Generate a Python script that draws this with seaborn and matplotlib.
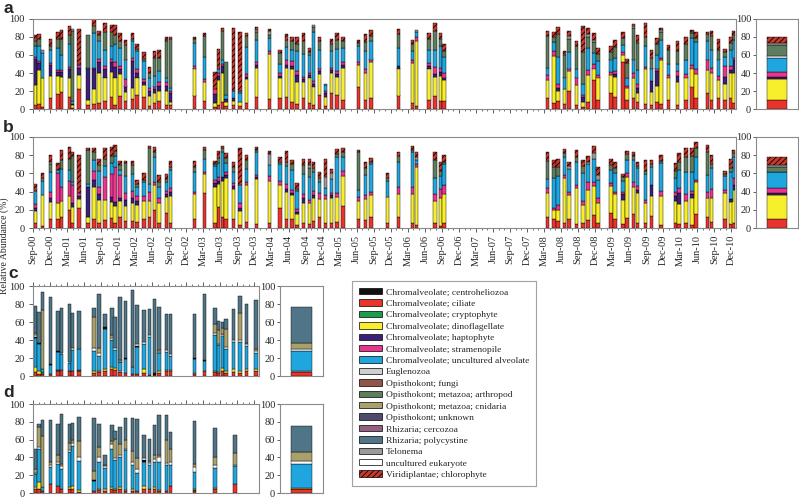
import numpy as np
import matplotlib
matplotlib.use("Agg")
import matplotlib.pyplot as plt
import seaborn as sns
from matplotlib.patches import Patch

# ---- taxa / legend ----
taxa = [
    "Chromalveolate; centroheliozoa",
    "Chromalveolate; ciliate",
    "Chromalveolate; cryptophyte",
    "Chromalveolate; dinoflagellate",
    "Chromalveolate; haptophyte",
    "Chromalveolate; stramenopile",
    "Chromalveolate; uncultured alveolate",
    "Euglenozoa",
    "Opisthokont; fungi",
    "Opisthokont; metazoa; arthropod",
    "Opisthokont; metazoa; cnidaria",
    "Opisthokont; unknown",
    "Rhizaria; cercozoa",
    "Rhizaria; polycystine",
    "Telonema",
    "uncultured eukaryote",
    "Viridiplantae; chlorophyte",
]
taxa_colors = ["#111111", "#e8342d", "#1b9e4b", "#f7ef2b", "#3b2078", "#e8368e",
               "#1fa6de", "#cfcfcf", "#8e5548", "#5e7c5e", "#a9a06c", "#4f4a6e",
               "#93607f", "#4f7587", "#9a9a9a", "#ffffff", "#c9372d"]

# stacking order, bottom to top
stack_order = ["Chromalveolate; ciliate", "Chromalveolate; cryptophyte",
               "Chromalveolate; dinoflagellate", "Chromalveolate; haptophyte",
               "Chromalveolate; stramenopile", "Chromalveolate; uncultured alveolate",
               "Chromalveolate; centroheliozoa", "uncultured eukaryote",
               "Opisthokont; metazoa; arthropod", "Opisthokont; metazoa; cnidaria",
               "Rhizaria; polycystine", "Telonema", "Viridiplantae; chlorophyte"]

month_labels = ["Sep-00", "Dec-00", "Mar-01", "Jun-01", "Sep-01", "Dec-01", "Mar-02",
                "Jun-02", "Sep-02", "Dec-02", "Mar-03", "Jun-03", "Sep-03", "Dec-03",
                "Mar-04", "Jun-04", "Sep-04", "Dec-04", "Mar-05", "Jun-05", "Sep-05",
                "Dec-05", "Mar-06", "Jun-06", "Sep-06", "Dec-06", "Mar-07", "Jun-07",
                "Sep-07", "Dec-07", "Mar-08", "Jun-08", "Sep-08", "Dec-08", "Mar-09",
                "Jun-09", "Sep-09", "Dec-09", "Mar-10", "Jun-10", "Sep-10", "Dec-10"]

# ---- panel a (months since Sep-00) ----
a_month = [0.4, 1.06, 1.65, 3.06, 4.41, 5.06, 6.47, 6.94, 8.12, 9.71,
           10.76, 11.65, 12.71, 13.88, 14.47, 15.35, 16.29, 17.53, 18.35, 19.53,
           20.47, 21.35, 22.18, 23.53, 24.24, 28.41, 30.24, 32.06, 32.65, 33.41,
           34.0, 35.29, 36.47, 37.65, 39.41, 41.65, 43.53, 44.59, 45.59, 46.47,
           47.65, 48.71, 49.41, 50.47, 51.47, 52.53, 53.53, 54.59, 57.35, 58.53,
           59.53, 64.41, 66.88, 67.53, 69.71, 70.76, 71.76, 72.41, 90.65, 91.76,
           92.47, 93.65, 94.41, 95.71, 96.88, 97.76, 98.82, 99.53, 101.76, 102.47,
           103.88, 104.59, 105.76, 106.47, 107.82, 108.94, 109.88, 110.59, 111.94, 113.53,
           115.0, 116.06, 116.76, 118.82, 119.53, 120.76, 121.88, 122.94, 123.4]
a_cil = [5, 6, 2, 12, 17, 19, 13, 1, 22, 5, 6, 7, 9, 13, 5, 14, 9, 11, 16, 13,
         3, 7, 9, 4, 4, 15, 9, 2, 5, 8, 3, 4, 3, 7, 13, 11, 12, 13, 8, 6,
         12, 7, 5, 16, 3, 18, 16, 10, 24, 10, 12, 15, 7, 3, 10, 14, 9, 9, 12, 7,
         9, 6, 20, 5, 2, 8, 32, 10, 18, 13, 52, 10, 12, 8, 6, 4, 8, 6, 10, 5,
         10, 25, 12, 18, 10, 12, 10, 12, 7]
a_dino = [22, 37, 32, 25, 20, 17, 22, 3, 16, 5, 16, 33, 26, 28, 30, 25, 10, 12, 19, 14,
          12, 11, 11, 16, 4, 30, 21, 5, 27, 32, 5, 5, 5, 26, 33, 50, 22, 33, 37, 24,
          18, 28, 20, 23, 10, 22, 20, 36, 25, 30, 40, 30, 44, 73, 35, 22, 28, 23, 20, 52,
          11, 16, 22, 22, 6, 30, 13, 25, 20, 23, 8, 13, 22, 10, 38, 15, 18, 48, 25, 25,
          25, 20, 27, 25, 30, 20, 18, 28, 33]
a_hapto = [29, 8, 0, 12, 4, 5, 10, 2, 8, 35, 22, 12, 10, 11, 12, 5, 6, 30, 5, 3,
           5, 4, 6, 6, 10, 0, 0, 10, 5, 8, 3, 3, 0, 3, 3, 0, 3, 3, 3, 8,
           3, 3, 3, 3, 5, 3, 3, 3, 0, 0, 0, 3, 0, 0, 3, 3, 4, 3, 0, 0,
           3, 0, 0, 0, 5, 0, 0, 0, 0, 3, 0, 0, 0, 5, 0, 12, 16, 0, 0, 7,
           0, 0, 0, 0, 0, 0, 8, 3, 14]
a_stram = [2, 2, 0, 2, 2, 2, 2, 0, 3, 0, 2, 4, 3, 4, 5, 4, 8, 4, 4, 3,
           3, 3, 4, 4, 2, 3, 3, 5, 3, 2, 0, 0, 0, 3, 3, 3, 3, 5, 5, 4,
           3, 2, 3, 3, 2, 3, 3, 3, 3, 4, 3, 0, 3, 4, 3, 8, 5, 5, 6, 5,
           5, 0, 3, 8, 3, 5, 5, 3, 3, 3, 3, 3, 6, 5, 3, 0, 3, 3, 3, 5,
           4, 4, 5, 12, 6, 5, 12, 5, 3]
a_alv = [12, 17, 28, 15, 25, 17, 25, 3, 1, 1, 38, 20, 18, 14, 20, 20, 22, 18, 20, 20,
         12, 12, 12, 5, 3, 25, 25, 0, 5, 5, 5, 8, 10, 30, 25, 15, 10, 15, 12, 22,
         25, 20, 55, 20, 7, 18, 25, 16, 18, 20, 20, 20, 10, 5, 15, 18, 24, 18, 8, 10,
         30, 13, 18, 10, 12, 25, 12, 15, 14, 15, 8, 8, 15, 15, 23, 14, 15, 20, 12, 8,
         15, 30, 30, 20, 20, 18, 10, 18, 20]
a_arth = [5, 8, 0, 4, 10, 18, 10, 78, 0, 36, 8, 6, 20, 16, 10, 8, 16, 3, 3, 3,
          5, 20, 15, 40, 55, 5, 23, 0, 0, 32, 36, 0, 2, 12, 8, 3, 12, 8, 10, 8,
          15, 3, 5, 10, 0, 8, 10, 7, 3, 10, 6, 15, 8, 0, 12, 22, 8, 6, 35, 6,
          25, 25, 15, 25, 35, 12, 12, 8, 8, 12, 8, 17, 35, 30, 10, 12, 12, 8, 15, 14,
          18, 5, 5, 8, 15, 10, 5, 7, 5]
a_tel = [0, 0, 3, 0, 0, 0, 0, 2, 0, 0, 0, 0, 0, 0, 0, 0, 0, 0, 0, 0,
         0, 0, 0, 0, 0, 0, 0, 0, 0, 0, 0, 0, 0, 0, 3, 5, 0, 0, 0, 0,
         0, 0, 2, 0, 1, 0, 0, 0, 0, 0, 0, 0, 0, 3, 0, 0, 0, 0, 0, 0,
         0, 0, 3, 0, 0, 3, 3, 0, 0, 0, 0, 0, 2, 0, 0, 0, 0, 3, 0, 0,
         0, 2, 0, 0, 0, 0, 0, 0, 0]
a_chl = [7, 5, 0, 8, 8, 10, 10, 0, 39, 0, 8, 5, 10, 7, 11, 8, 6, 6, 5, 7,
         7, 7, 8, 5, 2, 2, 3, 19, 22, 3, 0, 70, 65, 3, 3, 2, 4, 6, 5, 8,
         8, 5, 0, 5, 0, 6, 7, 5, 4, 9, 7, 6, 5, 0, 6, 8, 6, 8, 6, 6,
         8, 4, 6, 5, 29, 7, 7, 7, 7, 8, 6, 5, 2, 9, 15, 8, 7, 2, 6, 12,
         8, 2, 6, 3, 6, 13, 4, 7, 5]
a_mean = [10, 0, 23, 3, 5, 16, 0, 2, 12, 0, 0, 2, 7]

# ---- panel b ----
b_month = [0.4, 1.65, 3.06, 4.41, 5.06, 6.47, 6.94, 8.12, 9.71, 10.76,
           11.65, 12.71, 13.88, 14.47, 15.35, 16.29, 17.53, 18.35, 19.53, 20.47,
           21.35, 22.18, 23.53, 24.24, 28.41, 30.24, 32.06, 32.65, 33.41, 34.0,
           35.29, 36.47, 37.65, 39.41, 41.65, 43.53, 44.59, 45.59, 46.47, 47.65,
           48.71, 49.41, 50.47, 51.47, 52.53, 53.53, 54.59, 57.35, 58.53, 59.53,
           62.47, 64.41, 66.88, 67.53, 70.76, 71.76, 72.41, 90.65, 91.76, 92.47,
           93.65, 94.41, 95.71, 96.88, 97.76, 98.82, 99.53, 101.76, 102.47, 103.88,
           104.59, 105.76, 106.47, 107.82, 108.94, 110.59, 113.18, 113.76, 115.0, 116.06,
           116.76, 118.82, 119.53, 121.88, 122.94, 123.4]
b_cil = [6, 2, 10, 10, 12, 20, 5, 22, 6, 10, 6, 9, 11, 6, 12, 8, 8, 7, 10, 12,
         20, 5, 17, 5, 10, 39, 5, 23, 12, 10, 10, 3, 7, 4, 5, 22, 10, 10, 3, 5,
         4, 8, 12, 6, 5, 7, 24, 10, 9, 12, 6, 12, 5, 3, 5, 2, 6, 12, 10, 8,
         5, 10, 4, 5, 9, 14, 6, 16, 10, 4, 11, 15, 5, 6, 13, 3, 5, 4, 5, 3,
         15, 12, 7, 10, 4, 5]
b_dino = [13, 34, 19, 17, 18, 15, 18, 10, 6, 35, 25, 22, 18, 18, 18, 16, 20, 18, 20, 18,
          27, 22, 17, 30, 27, 20, 40, 25, 40, 45, 33, 16, 40, 50, 47, 25, 30, 26, 12, 22,
          23, 25, 20, 26, 28, 27, 33, 20, 23, 24, 28, 25, 32, 64, 25, 31, 31, 26, 10, 12,
          50, 26, 40, 20, 33, 32, 22, 30, 27, 27, 45, 30, 33, 21, 22, 32, 25, 22, 25, 30,
          35, 21, 26, 29, 25, 37]
b_hapto = [3, 0, 4, 0, 0, 0, 4, 3, 33, 8, 6, 0, 5, 5, 3, 7, 5, 5, 0, 0,
           0, 0, 3, 5, 0, 0, 4, 4, 4, 3, 3, 3, 0, 2, 0, 0, 3, 3, 3, 6,
           0, 3, 0, 0, 3, 0, 0, 0, 0, 0, 0, 0, 0, 0, 0, 0, 0, 0, 0, 0,
           0, 0, 0, 0, 0, 0, 0, 0, 0, 6, 0, 0, 4, 0, 12, 0, 5, 12, 0, 4,
           0, 0, 0, 0, 3, 5]
b_stram = [4, 0, 7, 33, 15, 17, 20, 3, 0, 10, 8, 25, 25, 38, 25, 8, 8, 5, 5, 10,
           3, 6, 4, 4, 3, 2, 4, 4, 0, 3, 3, 5, 3, 2, 5, 5, 5, 3, 3, 4,
           4, 5, 6, 4, 3, 4, 6, 4, 4, 4, 0, 8, 8, 3, 7, 10, 10, 6, 2, 5,
           3, 4, 3, 5, 8, 5, 5, 3, 3, 3, 4, 5, 4, 4, 0, 6, 5, 6, 7, 4,
           3, 7, 10, 3, 0, 8]
b_alv = [15, 16, 22, 4, 20, 12, 4, 0, 3, 12, 18, 12, 12, 12, 6, 18, 18, 10, 15, 8,
         28, 12, 10, 20, 22, 15, 15, 15, 28, 10, 12, 20, 15, 25, 12, 18, 20, 22, 20, 22,
         25, 20, 12, 8, 15, 40, 15, 8, 22, 30, 18, 28, 38, 5, 18, 14, 23, 10, 33, 32,
         20, 25, 25, 30, 20, 25, 20, 15, 20, 12, 15, 25, 20, 28, 20, 30, 15, 20, 25, 20,
         25, 18, 23, 15, 30, 23]
b_arth = [0, 3, 8, 0, 10, 12, 28, 0, 38, 8, 6, 8, 8, 6, 5, 14, 10, 3, 3, 40,
          5, 5, 3, 3, 5, 10, 2, 6, 4, 6, 6, 0, 10, 3, 0, 3, 5, 6, 2, 10,
          10, 5, 5, 0, 0, 3, 5, 42, 8, 3, 3, 6, 3, 0, 20, 6, 3, 20, 12, 10,
          4, 0, 6, 8, 0, 0, 0, 5, 6, 4, 6, 4, 2, 4, 3, 3, 8, 8, 16, 18,
          10, 25, 4, 2, 4, 4]
b_tel = [0, 0, 3, 0, 0, 0, 0, 0, 0, 0, 0, 0, 0, 0, 0, 0, 0, 0, 0, 0,
         0, 0, 0, 0, 0, 0, 0, 0, 0, 0, 0, 0, 0, 0, 12, 0, 0, 0, 0, 0,
         3, 0, 0, 12, 6, 0, 0, 0, 0, 0, 0, 0, 0, 3, 0, 0, 0, 0, 0, 0,
         0, 3, 0, 0, 3, 6, 5, 0, 0, 0, 0, 0, 0, 0, 0, 0, 0, 0, 0, 0,
         0, 0, 0, 0, 0, 0]
b_chl = [7, 5, 7, 7, 11, 13, 5, 42, 2, 5, 7, 12, 10, 6, 5, 3, 5, 5, 7, 2,
         6, 8, 5, 7, 7, 3, 4, 8, 2, 5, 5, 41, 5, 3, 4, 5, 12, 5, 6, 7,
         7, 6, 7, 20, 5, 6, 5, 2, 6, 4, 5, 5, 4, 5, 9, 9, 7, 10, 8, 9,
         5, 5, 8, 7, 6, 8, 9, 7, 7, 3, 4, 5, 5, 12, 5, 6, 8, 10, 10, 9,
         6, 8, 10, 4, 10, 4]
b_mean = [10, 0, 26, 2, 6, 17, 1, 0, 5, 0, 0, 2, 9]

# ---- panel c ----
c_month = [0.4, 1.06, 1.65, 3.06, 4.41, 5.06, 6.47, 6.94, 8.12, 10.76,
           11.65, 12.71, 13.88, 14.47, 15.35, 16.29, 17.53, 18.35, 19.53, 20.47,
           21.35, 22.18, 23.53, 24.24, 28.41, 30.24, 32.06, 32.65, 33.41, 34.0,
           35.29, 36.47, 37.65, 39.3]
c_cil = [4, 2, 2, 2, 6, 7, 5, 5, 6, 3, 4, 6, 8, 7, 4, 3, 2, 2, 3, 1,
         1, 3, 5, 5, 2, 5, 4, 3, 5, 3, 4, 3, 6, 5]
c_cryp = [0, 0, 2, 0, 1, 0, 1, 0, 1, 0, 0, 0, 0, 0, 0, 0, 0, 0, 0, 0,
          0, 0, 0, 0, 0, 0, 0, 0, 0, 0, 0, 0, 0, 0]
c_dino = [6, 4, 0, 0, 0, 0, 0, 0, 0, 2, 2, 2, 2, 2, 1, 0, 0, 0, 5, 0,
          0, 2, 2, 2, 1, 0, 2, 1, 4, 2, 4, 2, 2, 3]
c_alv = [32, 30, 4, 10, 20, 17, 8, 24, 23, 23, 16, 44, 30, 20, 10, 16, 8, 30, 28, 42,
         0, 20, 20, 15, 16, 12, 40, 30, 36, 25, 30, 33, 25, 18]
c_black = [1, 1, 0, 1, 1, 1, 1, 0, 0, 0, 0, 2, 0, 0, 0, 1, 0, 1, 0, 0,
           2, 0, 0, 0, 1, 1, 0, 0, 0, 0, 0, 0, 0, 0]
c_white = [2, 0, 0, 0, 0, 0, 0, 2, 0, 3, 3, 0, 2, 2, 1, 0, 0, 2, 2, 2,
           0, 2, 2, 2, 0, 0, 2, 2, 2, 2, 2, 2, 2, 2]
c_cnid = [3, 0, 65, 0, 0, 0, 0, 0, 0, 35, 6, 0, 4, 0, 2, 0, 0, 0, 0, 0,
          0, 2, 0, 0, 0, 0, 10, 15, 6, 20, 0, 30, 2, 2]
c_poly = [30, 34, 20, 75, 44, 50, 65, 39, 42, 9, 60, 15, 30, 34, 70, 63, 85, 44, 35, 29,
          82, 48, 40, 45, 49, 73, 18, 10, 7, 11, 34, 19, 43, 54]
c_mean = [4, 1, 1, 0, 0, 22, 0, 2, 0, 7, 40, 0, 0]

# ---- panel d ----
d_month = [0.4, 1.06, 1.65, 3.06, 4.41, 5.06, 6.47, 6.94, 8.12, 10.76,
           11.65, 12.71, 13.88, 14.47, 15.35, 16.29, 17.53, 18.35, 19.53, 20.47,
           21.35, 22.18, 23.53, 24.24, 28.41, 32.06, 35.59]
d_cil = [4, 4, 2, 10, 8, 5, 4, 5, 1, 2, 3, 2, 4, 3, 5, 2, 2, 2, 5, 5,
         5, 2, 2, 8, 2, 4, 10]
d_cryp = [0, 1, 0, 0, 0, 0, 1, 0, 0, 0, 0, 0, 0, 0, 0, 0, 0, 0, 0, 0,
          0, 0, 0, 0, 1, 0, 0]
d_dino = [3, 7, 0, 0, 0, 0, 2, 3, 2, 0, 2, 2, 3, 2, 2, 1, 2, 0, 3, 0,
          2, 1, 0, 0, 1, 2, 0]
d_alv = [14, 38, 5, 19, 25, 22, 39, 45, 33, 12, 30, 24, 42, 32, 33, 45, 28, 20, 27, 26,
         28, 32, 29, 24, 20, 22, 20]
d_black = [0, 0, 0, 0, 0, 0, 0, 0, 0, 1, 0, 0, 0, 0, 0, 0, 0, 0, 2, 0,
           0, 0, 0, 0, 0, 0, 0]
d_white = [2, 2, 0, 3, 2, 3, 2, 3, 4, 0, 5, 2, 6, 2, 3, 2, 3, 5, 2, 3,
           3, 5, 3, 3, 5, 3, 2]
d_cnid = [4, 22, 57, 3, 8, 3, 8, 3, 18, 10, 12, 2, 3, 22, 12, 10, 12, 12, 0, 2,
          5, 3, 25, 15, 4, 10, 13]
d_poly = [22, 3, 18, 47, 35, 56, 21, 20, 27, 59, 26, 11, 18, 9, 19, 24, 37, 44, 26, 25,
          33, 45, 29, 19, 48, 32, 20]
d_mean = [4, 1, 1, 0, 0, 27, 0, 3, 0, 10, 29, 0, 0]

# ---- style ----
sns.set_style("ticks")
plt.rcParams["font.family"] = ["Liberation Serif", "DejaVu Serif"]
plt.rcParams["hatch.linewidth"] = 0.6
color_of = dict(zip(taxa, taxa_colors))
hatch_of = {"Viridiplantae; chlorophyte": "//////"}
spine_col = "#8a8a8a"


def draw_stack(ax, x, layers, width):
    x = np.asarray(x, dtype=float)
    base = np.zeros(len(x))
    for taxon, vals in layers:
        h = np.asarray(vals, dtype=float)
        keep = h > 0
        if keep.any():
            ax.bar(x[keep], h[keep], width, bottom=base[keep], color=color_of[taxon],
                   edgecolor="black", linewidth=0.3, hatch=hatch_of.get(taxon))
        base = base + h


def frame(ax):
    ax.set_ylim(0, 100)
    ax.set_yticks(range(0, 101, 20))
    for s in ax.spines.values():
        s.set_visible(True)
        s.set_color(spine_col)
        s.set_linewidth(0.8)
    ax.tick_params(axis="y", direction="out", length=3, width=0.6, pad=3,
                   labelsize=7.5, color="#444444")


def summary(ax, values):
    layers = [(t, [v]) for t, v in zip(stack_order, values)]
    draw_stack(ax, [0.0], layers, 0.95)
    ax.set_xlim(-1, 1)
    frame(ax)
    ax.set_xticks([])
    ax.tick_params(axis="y", length=2, pad=1.5)


def time_axis(ax, xmax, labels, top=False):
    ax.set_xlim(0, xmax)
    ax.set_xticks(np.arange(0, xmax, 3))
    ax.set_xticks(np.arange(0, xmax, 1), minor=True)
    ax.tick_params(axis="x", which="major", direction="out", length=3, width=0.6,
                   color="#444444", labelsize=7.5, pad=2,
                   bottom=not top, top=top, labelbottom=False, labeltop=False)
    ax.tick_params(axis="x", which="minor", direction="out", length=1.6, width=0.5,
                   color="#444444", bottom=not top, top=top)
    if labels is not None:
        ax.set_xticklabels(labels, rotation=90)
        ax.tick_params(axis="x", labelbottom=True)


W, H = 799, 498
fig = plt.figure(figsize=(W / 100, H / 100), dpi=100)


def rect(x0, y0, x1, y1):
    return [x0 / W, 1 - y1 / H, (x1 - x0) / W, (y1 - y0) / H]


ab_names = ["Chromalveolate; ciliate", "Chromalveolate; dinoflagellate",
            "Chromalveolate; haptophyte", "Chromalveolate; stramenopile",
            "Chromalveolate; uncultured alveolate", "Opisthokont; metazoa; arthropod",
            "Telonema", "Viridiplantae; chlorophyte"]
cd_names = ["Chromalveolate; ciliate", "Chromalveolate; cryptophyte",
            "Chromalveolate; dinoflagellate", "Chromalveolate; uncultured alveolate",
            "Chromalveolate; centroheliozoa", "uncultured eukaryote",
            "Opisthokont; metazoa; cnidaria", "Rhizaria; polycystine"]

# panel a
ax_a = fig.add_axes(rect(33, 19, 736, 109))
draw_stack(ax_a, a_month, list(zip(ab_names, [a_cil, a_dino, a_hapto, a_stram, a_alv,
                                               a_arth, a_tel, a_chl])), 0.6)
frame(ax_a)
time_axis(ax_a, 123.8, None)
ax_as = fig.add_axes(rect(756, 19, 798, 109))
summary(ax_as, a_mean)

# panel b
ax_b = fig.add_axes(rect(33, 137, 736, 228))
draw_stack(ax_b, b_month, list(zip(ab_names, [b_cil, b_dino, b_hapto, b_stram, b_alv,
                                               b_arth, b_tel, b_chl])), 0.6)
frame(ax_b)
time_axis(ax_b, 123.8, month_labels)
ax_bs = fig.add_axes(rect(756, 137, 798, 228))
summary(ax_bs, b_mean)

# panel c
ax_c = fig.add_axes(rect(33, 286, 259, 376))
draw_stack(ax_c, c_month, list(zip(cd_names, [c_cil, c_cryp, c_dino, c_alv, c_black,
                                               c_white, c_cnid, c_poly])), 0.6)
frame(ax_c)
time_axis(ax_c, 39.8, None, top=True)
ax_cs = fig.add_axes(rect(280, 286, 323, 376))
summary(ax_cs, c_mean)

# panel d
ax_d = fig.add_axes(rect(33, 404, 259, 493))
draw_stack(ax_d, d_month, list(zip(cd_names, [d_cil, d_cryp, d_dino, d_alv, d_black,
                                               d_white, d_cnid, d_poly])), 0.6)
frame(ax_d)
time_axis(ax_d, 39.8, None, top=True)
ax_ds = fig.add_axes(rect(280, 404, 323, 493))
summary(ax_ds, d_mean)

# panel letters and y label
for letter, xl, ytop in zip("abcd", [3, 3, 8, 3], [1, 120, 266, 385]):
    fig.text(xl / W, 1 - ytop / H, letter, fontsize=12.5, fontweight="bold",
             family=["Liberation Sans", "DejaVu Sans"], va="top", ha="left")
fig.text(4 / W, 1 - 246 / H, "Relative Abundance (%)", rotation=90, fontsize=7,
         va="center", ha="center")

# legend
handles = [Patch(facecolor=c, edgecolor="black", linewidth=0.5,
                 hatch=hatch_of.get(t), label=t) for t, c in zip(taxa, taxa_colors)]
leg = fig.legend(handles=handles, loc="upper left", bbox_to_anchor=(352 / W, 1 - 281 / H),
                 fontsize=6.8, frameon=True, fancybox=False, edgecolor=spine_col,
                 handlelength=2.4, handleheight=0.65, handletextpad=0.45,
                 labelspacing=0.31, borderpad=0.75, borderaxespad=0)
leg.get_frame().set_linewidth(0.8)

fig.savefig("out.png", dpi=100)
